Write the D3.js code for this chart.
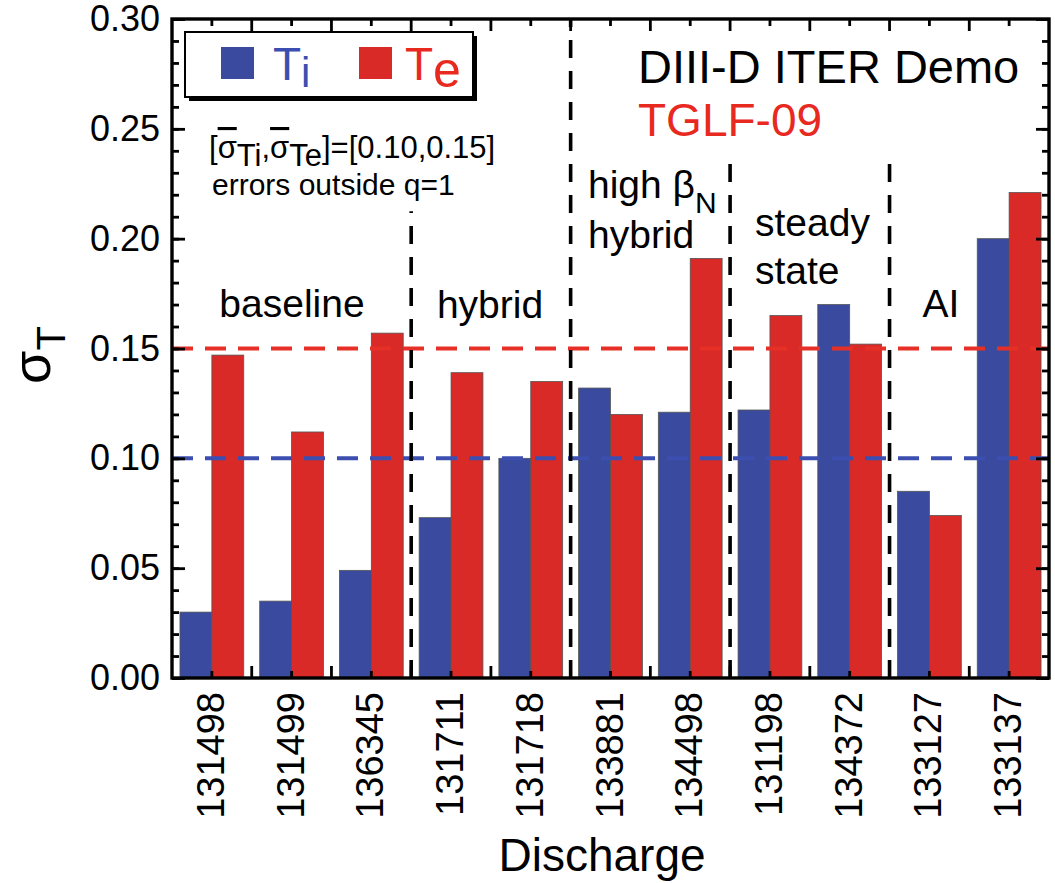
<!DOCTYPE html>
<html><head><meta charset="utf-8">
<script src="https://cdn.jsdelivr.net/npm/d3@7"></script>
<style>
body{margin:0;background:#fff}
svg{display:block}
text{font-family:"Liberation Sans",Arial,Helvetica,sans-serif;fill:#000}
</style>
</head><body>
<svg id="chart" width="1055" height="883"></svg>
<script>
// ---------------- data ----------------
const discharges = ["131498","131499","136345","131711","131718","133881","134498","131198","134372","133127","133137"];
const sigmaTi = [0.030,0.035,0.049,0.073,0.100,0.132,0.121,0.122,0.170,0.085,0.200];
const sigmaTe = [0.147,0.112,0.157,0.139,0.135,0.120,0.191,0.165,0.152,0.074,0.221];
const yTicks = [0.00,0.05,0.10,0.15,0.20,0.25,0.30];
const meanTi = 0.10;
const meanTe = 0.15;
const dividerIndex = [3,5,7,9];
const dividerTop = [0.2125,0.30,0.2375,0.2375];
const seriesNames = ["Ti","Te"];

// ---------------- layout ----------------
const margin = {left:172, top:19, right:6, bottom:205};
const W = 1055 - margin.left - margin.right;   // 877
const H = 883 - margin.top - margin.bottom;    // 659
const BLUE = "#3a4a9f", RED = "#d92a27";
const BLUE_LINE = "#3c4fb0", RED_LINE = "#e63027";

const svg = d3.select("#chart");
const g = svg.append("g").attr("transform",`translate(${margin.left},${margin.top})`);

const y = d3.scaleLinear().domain([0,0.30]).range([H,0]);
const x = d3.scaleBand().domain(discharges).range([0,W]).paddingInner(0.2).paddingOuter(0.1);
const xs = d3.scaleBand().domain(seriesNames).range([0,x.bandwidth()]);
const xi = d3.scaleLinear().domain([0,discharges.length]).range([0,W]);

const rows = discharges.map((d,i)=>({d, Ti:sigmaTi[i], Te:sigmaTe[i]}));

// bars
const grp = g.selectAll("g.grp").data(rows).join("g").attr("class","grp")
  .attr("transform",d=>`translate(${x(d.d)},0)`);
grp.selectAll("rect").data(d=>seriesNames.map(k=>({k,v:d[k]}))).join("rect")
  .attr("x",d=>xs(d.k)).attr("width",xs.bandwidth())
  .attr("y",d=>y(d.v)).attr("height",d=>H-y(d.v))
  .attr("fill",d=>d.k==="Ti"?BLUE:RED)
  .attr("stroke","#555").attr("stroke-width",0.8);

// mean lines
[[meanTe,RED_LINE],[meanTi,BLUE_LINE]].forEach(([v,c])=>{
  g.append("line").attr("x1",0).attr("x2",W).attr("y1",y(v)).attr("y2",y(v))
    .style("stroke",c).style("stroke-width","4px").style("stroke-dasharray","21,12");
});

// dividers
g.selectAll("line.div").data(dividerIndex).join("line").attr("class","div")
  .attr("x1",d=>xi(d)).attr("x2",d=>xi(d))
  .attr("y1",H).attr("y2",(d,i)=>y(dividerTop[i]))
  .style("stroke","#000").style("stroke-width","3.6px").style("stroke-dasharray","18,13");

// ---------------- axes ----------------
function styleAxis(sel){
  sel.select(".domain").remove();
  sel.selectAll(".tick line").style("stroke","#000").style("stroke-width","2.8px");
}
const minorY = d3.range(0,0.3001,0.01);
g.append("g").call(d3.axisLeft(y).tickValues(minorY).tickSize(-7).tickFormat("")).call(styleAxis);
g.append("g").attr("transform",`translate(${W},0)`).call(d3.axisRight(y).tickValues(minorY).tickSize(-7).tickFormat("")).call(styleAxis);
const yl = g.append("g").call(d3.axisLeft(y).tickValues(yTicks).tickSize(-13).tickPadding(12).tickFormat(d3.format(".2f"))).call(styleAxis);
yl.selectAll("text").style("font-size","36px").attr("font-family","Liberation Sans, Arial, sans-serif").attr("fill","#000");
g.append("g").attr("transform",`translate(${W},0)`).call(d3.axisRight(y).tickValues(yTicks).tickSize(-13).tickFormat("")).call(styleAxis);

// x ticks: centers short, boundaries long; mirrored on top
const centers = discharges.map(d=>x(d)+x.bandwidth()/2);
const bounds = d3.range(1,discharges.length);
[[H,-1],[0,1]].forEach(([yy,dir])=>{
  g.selectAll(null).data(centers).join("line")
    .attr("x1",d=>d).attr("x2",d=>d).attr("y1",yy).attr("y2",yy+dir*7)
    .style("stroke","#000").style("stroke-width","2.8px");
  g.selectAll(null).data(bounds).join("line")
    .attr("x1",d=>xi(d)).attr("x2",d=>xi(d)).attr("y1",yy).attr("y2",yy+dir*12)
    .style("stroke","#000").style("stroke-width","2.8px");
});
// x labels
g.selectAll("text.xl").data(discharges).join("text").attr("class","xl")
  .attr("transform",d=>`translate(${x(d)+x.bandwidth()/2+12},${H+14}) rotate(-90)`)
  .attr("text-anchor","end").style("font-size","38px").text(d=>d);

// frame
g.append("rect").attr("x",0).attr("y",0).attr("width",W).attr("height",H)
  .style("fill","none").style("stroke","#000").style("stroke-width","3.4px");

// axis titles
svg.append("text").attr("x",602).attr("y",871).attr("text-anchor","middle")
  .style("font-size","46px").text("Discharge");
const yt = svg.append("text").attr("transform","translate(50,355) rotate(-90)")
  .attr("text-anchor","middle").style("font-size","54px");
yt.append("tspan").text("σ");
yt.append("tspan").attr("dy",15).style("font-size","40px").text("T");

// ---------------- legend ----------------
svg.append("rect").attr("x",189).attr("y",36).attr("width",288).attr("height",65).style("fill","#000");
svg.append("rect").attr("x",185).attr("y",32).attr("width",288).attr("height",65)
  .style("fill","#fff").style("stroke","#000").style("stroke-width","2px");
svg.append("rect").attr("x",221).attr("y",47).attr("width",33).attr("height",32).style("fill",BLUE);
svg.append("rect").attr("x",359).attr("y",47).attr("width",33).attr("height",32).style("fill",RED);
const lt1 = svg.append("text").attr("x",273).attr("y",80).style("font-size","46px").style("fill","#3c4fb0");
lt1.append("tspan").text("T");
lt1.append("tspan").attr("dy",7).style("font-size","42px").text("i");
const lt2 = svg.append("text").attr("x",405).attr("y",80).style("font-size","46px").style("fill","#e8291f");
lt2.append("tspan").text("T");
lt2.append("tspan").attr("dy",7).style("font-size","50px").text("e");

// ---------------- annotations ----------------
const an = svg.append("text").attr("x",209).attr("y",158).style("font-size","31px");
an.append("tspan").text("[");
an.append("tspan").style("text-decoration","overline").text("σ");
an.append("tspan").attr("dy",8).text("Ti");
an.append("tspan").attr("dy",-8).text(",");
an.append("tspan").style("text-decoration","overline").text("σ");
an.append("tspan").attr("dy",8).text("Te");
an.append("tspan").attr("dy",-8).text("]=[0.10,0.15]");
svg.append("text").attr("x",212).attr("y",195).style("font-size","30px").text("errors outside q=1");

svg.append("text").attr("x",638).attr("y",83).style("font-size","47px").text("DIII-D ITER Demo");
svg.append("text").attr("x",638).attr("y",136).style("font-size","46px").style("fill","#e8291f").text("TGLF-09");

const lab = (t,xx,yy,anchor)=>svg.append("text").attr("x",xx).attr("y",yy)
  .attr("text-anchor",anchor||"start").style("font-size","39px").text(t);
lab("baseline",292,317,"middle");
lab("hybrid",490,318,"middle");
const hb = lab("high β",588,198);
hb.append("tspan").attr("dy",15).style("font-size","30px").text("N");
lab("hybrid",588,248);
lab("steady",755,236);
lab("state",755,284);
lab("AI",941,317,"middle");
</script>
</body></html>
